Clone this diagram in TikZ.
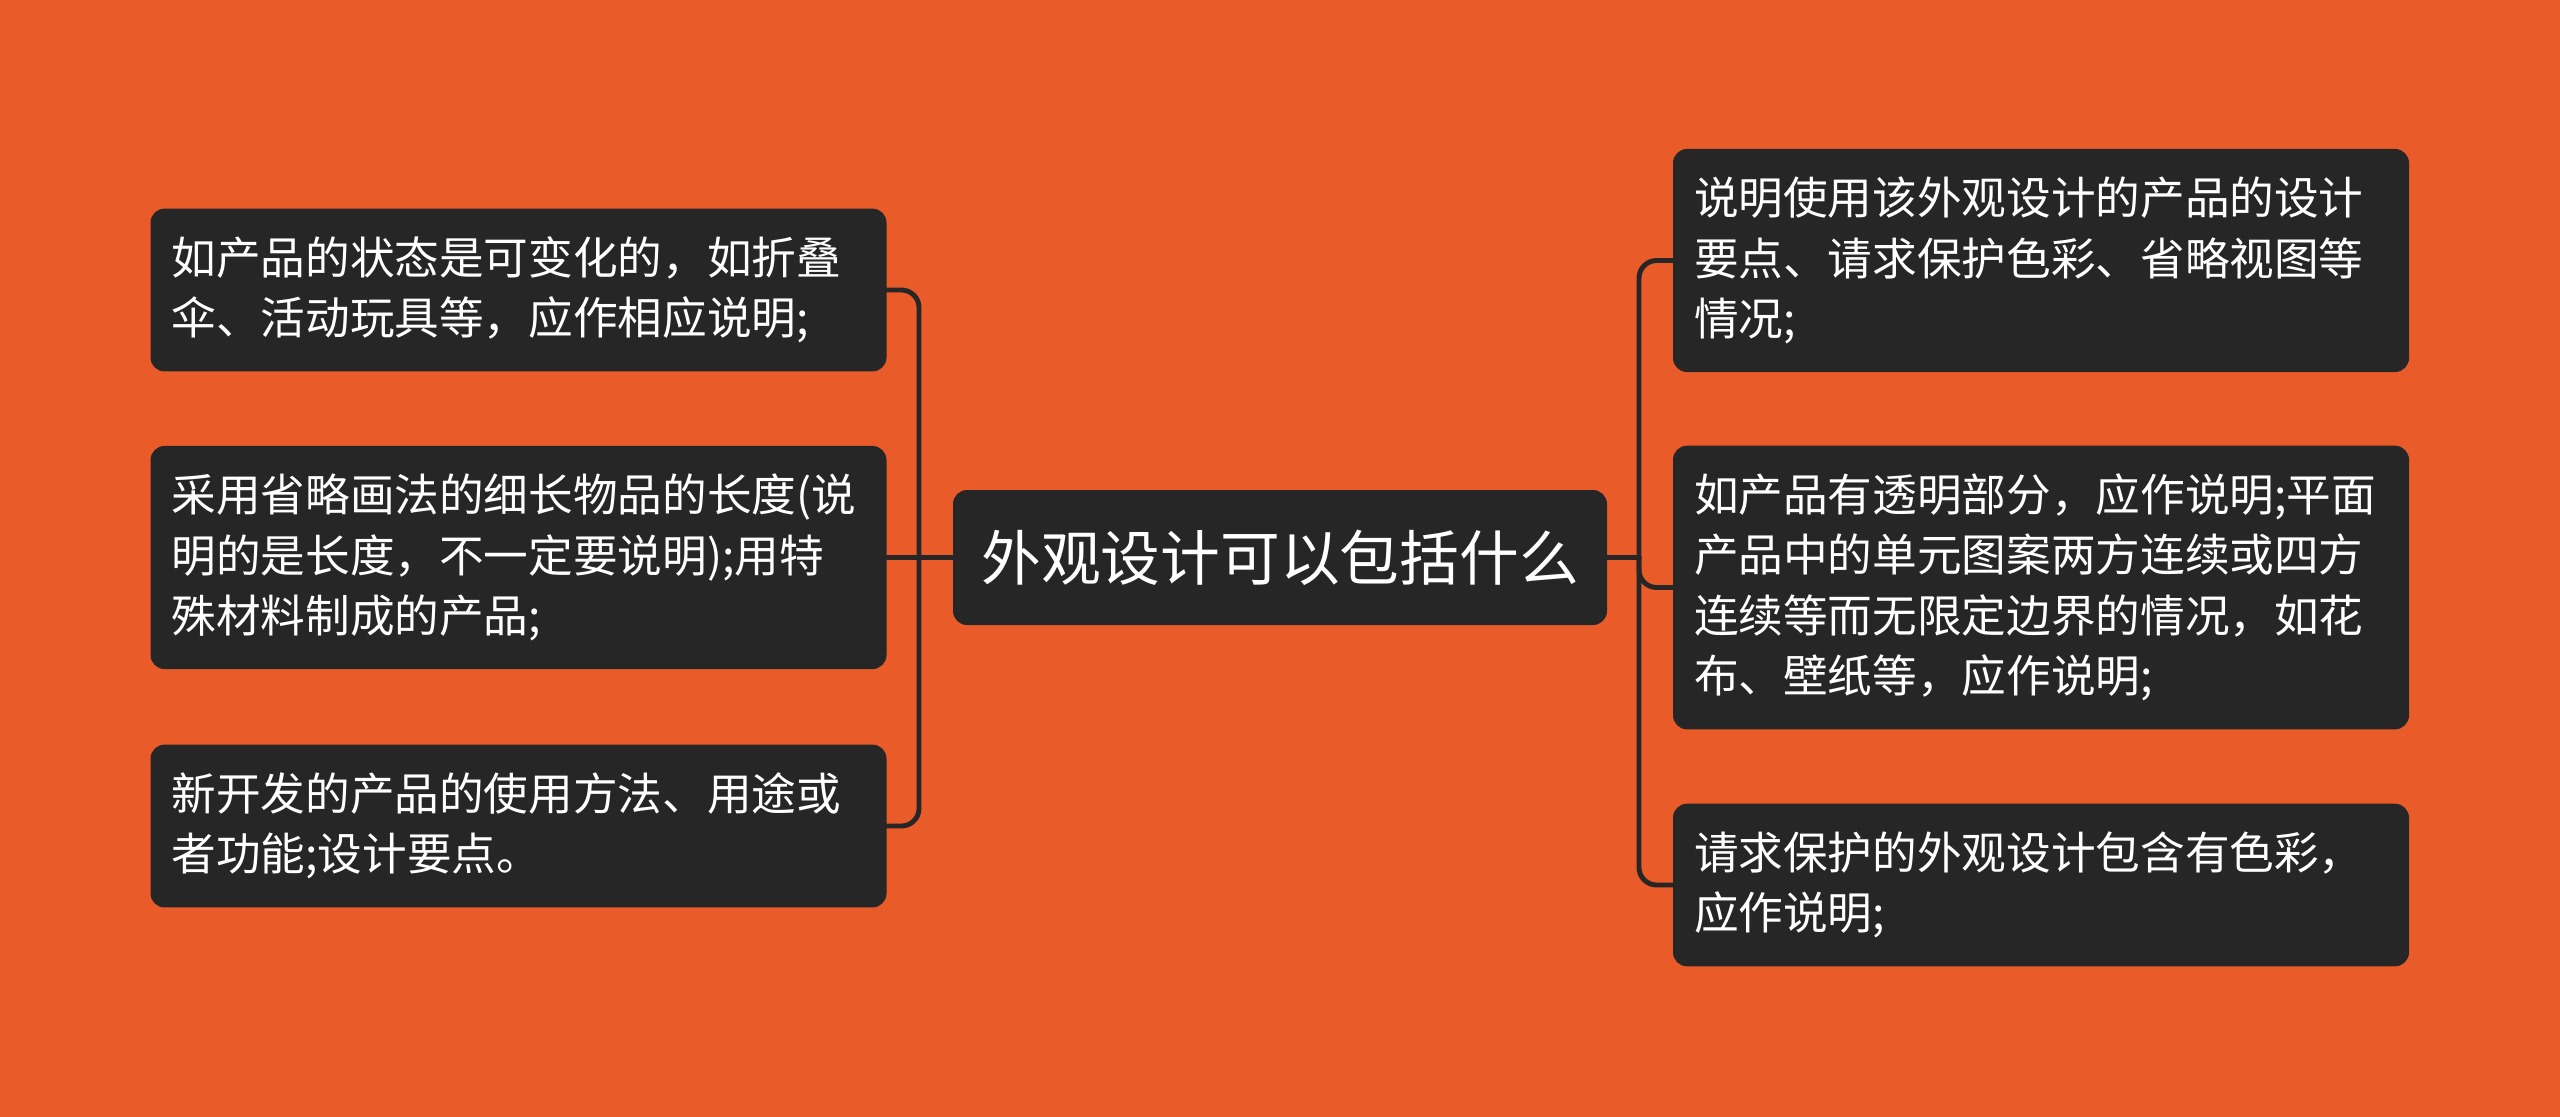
\documentclass[tikz,border=0pt]{standalone}
\usepackage{fontspec}
\setmainfont{Noto Sans CJK SC}
\usetikzlibrary{positioning}
\definecolor{bgorange}{HTML}{E95C29}
\definecolor{boxdark}{HTML}{262626}

\begin{document}
\begin{tikzpicture}[x=1cm,y=1cm]
\tikzset{
  rootnode/.style={rectangle,rounded corners=4pt,fill=boxdark,text=white,minimum width=6.54cm,minimum height=1.35cm,inner sep=0pt,font=\fontsize{17}{20}\selectfont},
  leafnode/.style={rectangle,rounded corners=4pt,fill=boxdark,text=white,text width=6.94cm,align=left,inner xsep=0.21cm,inner ysep=0.28cm,font=\fontsize{12.7}{17.2}\selectfont},
  branch/.style={draw=boxdark,line width=1.4pt,line cap=round,rounded corners=5pt}
}
\useasboundingbox (0,0) rectangle (25.6,-11.16);
\fill[bgorange] (-0.1,0.1) rectangle (25.7,-11.26);
\node[rootnode] (n_root) at (12.80,-5.575) {外观设计可以包括什么};
\node[leafnode] (n_L1) at (5.185,-2.90) {如产品的状态是可变化的，如折叠\\伞、活动玩具等，应作相应说明;};
\node[leafnode] (n_L2) at (5.185,-5.575) {采用省略画法的细长物品的长度(说\\明的是长度，不一定要说明);用特\\殊材料制成的产品;};
\node[leafnode] (n_L3) at (5.185,-8.26) {新开发的产品的使用方法、用途或\\者功能;设计要点。};
\node[leafnode] (n_R1) at (20.41,-2.605) {说明使用该外观设计的产品的设计\\要点、请求保护色彩、省略视图等\\情况;};
\node[leafnode] (n_R2) at (20.41,-5.875) {如产品有透明部分，应作说明;平面\\产品中的单元图案两方连续或四方\\连续等而无限定边界的情况，如花\\布、壁纸等，应作说明;};
\node[leafnode] (n_R3) at (20.41,-8.85) {请求保护的外观设计包含有色彩，\\应作说明;};
\coordinate (t_L) at (9.19,-5.575);
\coordinate (t_R) at (16.39,-5.575);
\draw[branch] (n_root.west) -- (t_L);
\draw[branch] (t_L) |- (n_L1.east);
\draw[branch] (t_L) -- (n_L2.east);
\draw[branch] (t_L) |- (n_L3.east);
\draw[branch] (n_root.east) -- (t_R);
\draw[branch] (t_R) |- (n_R1.west);
\draw[branch] (t_R) |- (n_R2.west);
\draw[branch] (t_R) |- (n_R3.west);
\end{tikzpicture}
\end{document}
